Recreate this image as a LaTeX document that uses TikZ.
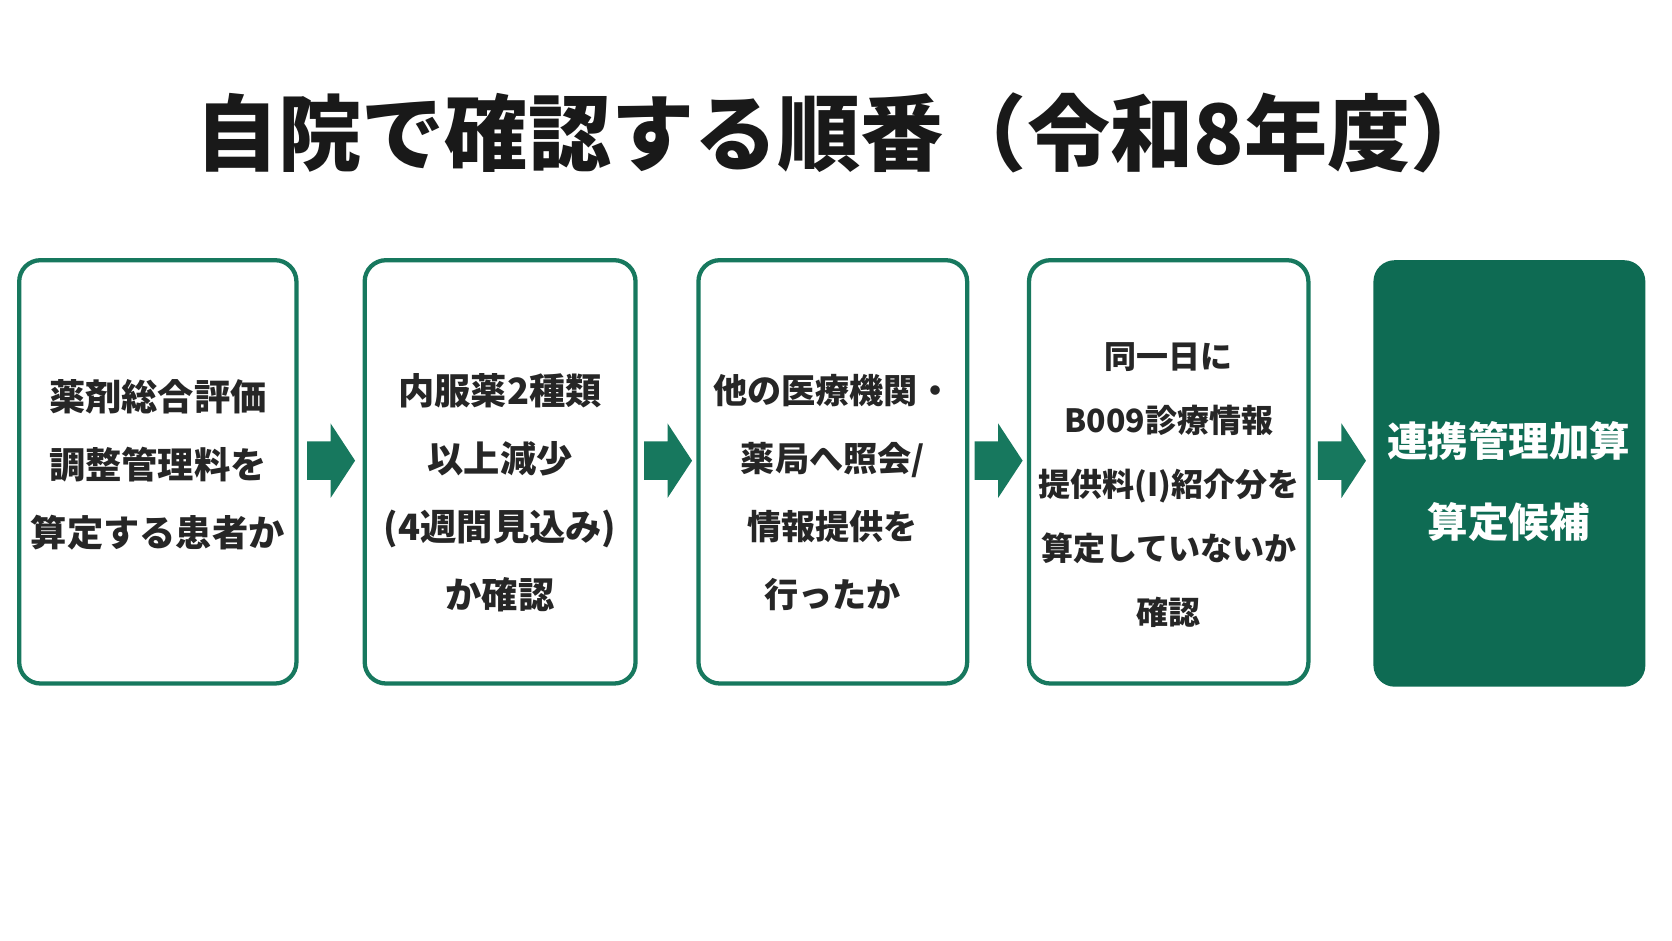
\documentclass[tikz,border=0pt]{standalone}
\usepackage{fontspec}
\setmainfont{Noto Sans CJK JP}
\definecolor{grn}{HTML}{17785E}
\definecolor{grnf}{HTML}{0E6B53}
\begin{document}
\begin{tikzpicture}[x=0.5pt,y=-0.5pt,
  box/.style={draw=grn,line width=2pt,rounded corners=10pt,fill=white},
  txt/.style={align=center,font=\bfseries\fontsize{17pt}{32pt}\selectfont,text=black!85},
  arr/.pic={\fill[grn] (-22,-18) -- (0,-18) -- (0,-35) -- (23,0) -- (0,35) -- (0,18) -- (-22,18) -- cycle;}]
\useasboundingbox (0,0) rectangle (1568,882);
\node[font=\bfseries\fontsize{39pt}{45pt}\selectfont,text=black!90] (title) at (792,125) {自院で確認する順番（令和8年度）};
\draw[box] (18,244) rectangle (278,641);
\draw[box] (342,244) rectangle (596,641);
\draw[box] (655,244) rectangle (907,641);
\draw[box] (965,244) rectangle (1227,641);
\fill[grnf,rounded corners=10pt] (1288,244) rectangle (1543,644);
\node[txt] (t1) at (148,436) {薬剤総合評価\\調整管理料を\\算定する患者か};
\node[txt] (t2) at (469,462) {内服薬2種類\\以上減少\\(4週間見込み)\\か確認};
\node[txt,font=\bfseries\fontsize{16pt}{32pt}\selectfont] (t3) at (781,462) {他の医療機関・\\薬局へ照会/\\情報提供を\\行ったか};
\node[txt,font=\bfseries\fontsize{15pt}{30pt}\selectfont] (t4) at (1096,455) {同一日に\\B009診療情報\\提供料(I)紹介分を\\算定していないか\\確認};
\node[txt,text=white,font=\bfseries\fontsize{19pt}{38pt}\selectfont] (t5) at (1415,452) {連携管理加算\\算定候補};
\pic at (310,432) {arr};
\pic at (626,432) {arr};
\pic at (936,432) {arr};
\pic at (1258,432) {arr};
\end{tikzpicture}
\end{document}
